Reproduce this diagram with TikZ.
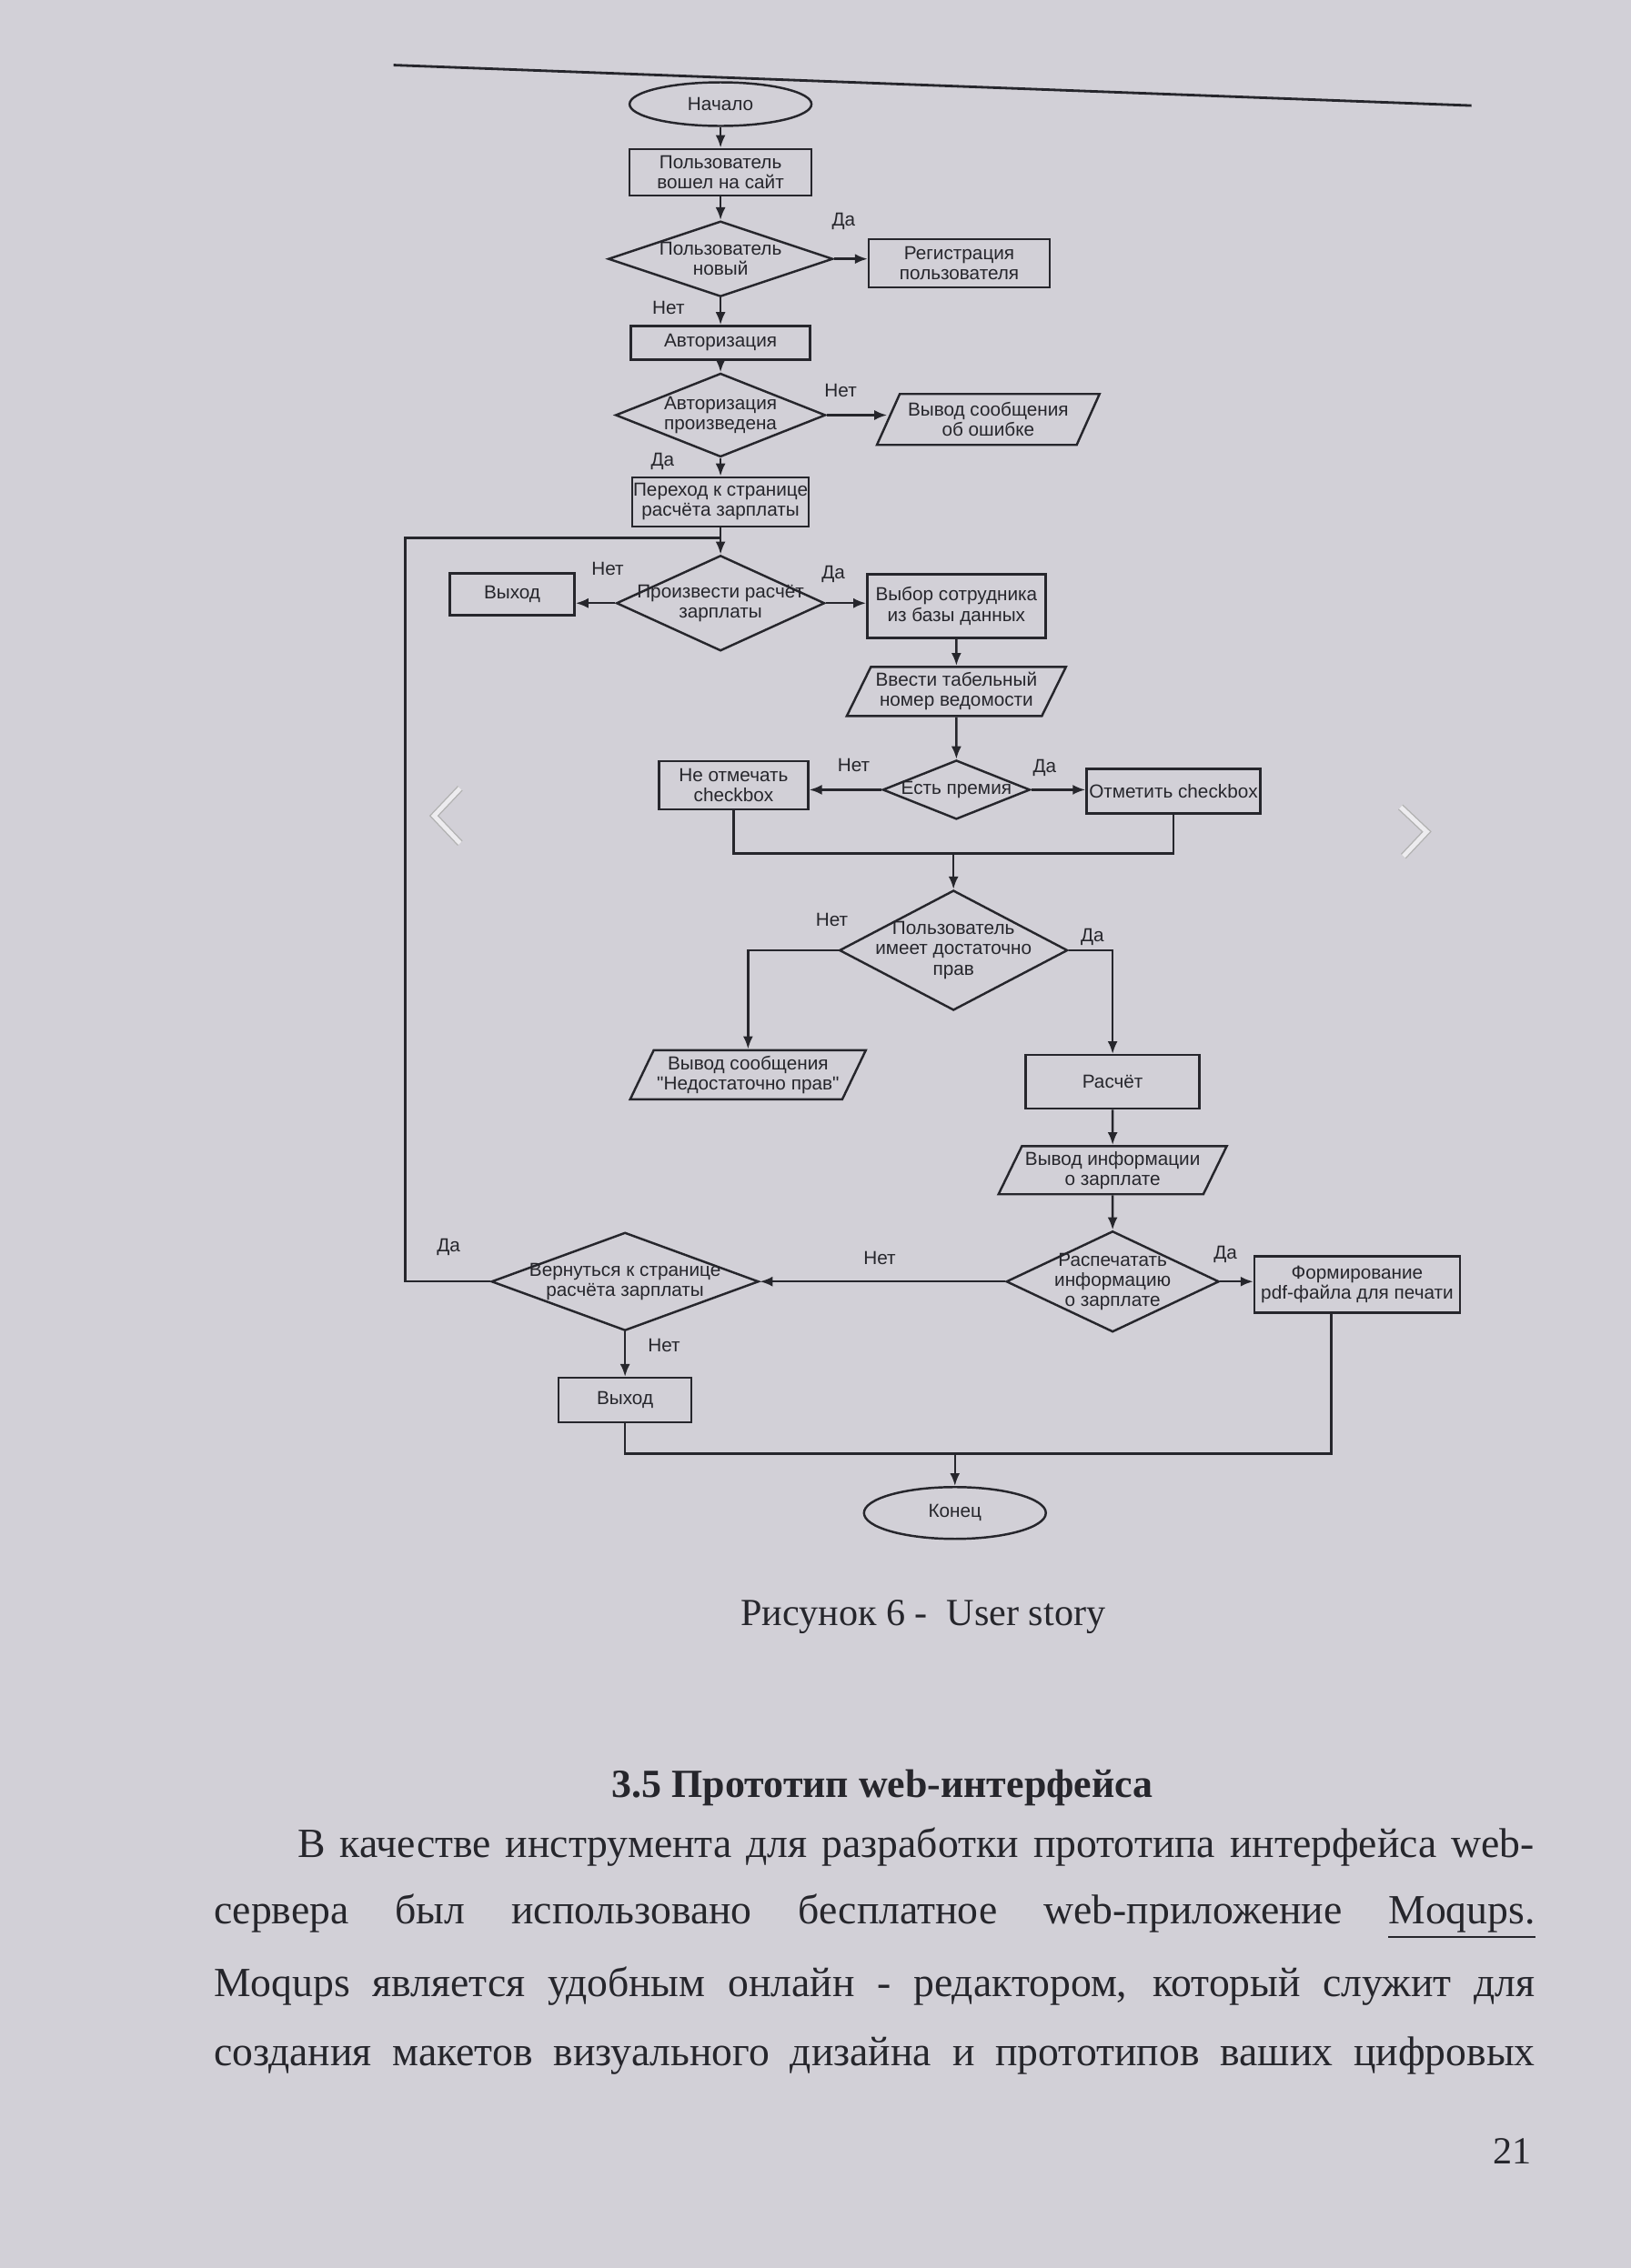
\documentclass[tikz,border=0pt]{standalone}
\usepackage{fontspec}
\setmainfont{Liberation Serif}
\newfontfamily\chartfont{Liberation Sans}
\usetikzlibrary{shapes.geometric,arrows.meta}
\definecolor{paper}{RGB}{210,208,215}
\definecolor{ink}{RGB}{38,38,44}
\newcommand{\chartsize}{\chartfont\fontsize{5.9}{6.3}\selectfont}
\newcommand{\bodysize}{\fontsize{13}{15}\selectfont}

\begin{document}
\begin{tikzpicture}[x=0.1591mm, y=-0.1591mm, color=ink, line width=0.7pt,
    >={Latex[length=1.4mm,width=1.1mm]}]
    \tikzstyle{rec} = [rectangle, draw, inner sep=0pt, align=center, font=\chartsize]
    \tikzstyle{term} = [ellipse, draw, inner sep=0pt, font=\chartsize]
    \tikzstyle{dec} = [diamond, draw, inner sep=0pt]
    \tikzstyle{io} = [trapezium, trapezium left angle=62, trapezium right angle=118,
        trapezium stretches=true, draw, inner sep=1pt, align=center, font=\chartsize]
    \tikzstyle{txt} = [align=center, inner sep=0pt, font=\chartsize]
    \tikzstyle{lbl} = [inner sep=0pt, font=\chartsize]
    \tikzstyle{chev} = [draw=black!30, double=white!60!paper, double distance=1.4pt, line width=0.4pt]

    % page
    \path[fill=paper, use as bounding box] (0,0) rectangle (1127,1568);
    \draw[line width=0.8pt] (272,45) -- (1017,73);
    \draw[chev] (318,545) -- (300,564) -- (318,583);
    \draw[chev] (968,558) -- (986,575) -- (970,592);

    % flowchart
    \node [term, minimum width=2.00cm, minimum height=0.48cm] (start) at (498,72) {Начало};
    \node [rec, minimum width=2.00cm, minimum height=0.51cm] (user) at (498,119) {Пользователь\\вошел на сайт};
    \node [dec, minimum width=2.47cm, minimum height=0.83cm, label={[txt]center:Пользователь\\новый}] (isnew) at (498,179) {};
    \node [rec, minimum width=1.99cm, minimum height=0.53cm] (reg) at (663,182) {Регистрация\\пользователя};
    \node [rec, minimum width=1.97cm, minimum height=0.37cm] (auth) at (498,237) {Авторизация};
    \node [dec, minimum width=2.31cm, minimum height=0.92cm, label={[txt]center:Авторизация\\произведена}] (authok) at (498,287) {};
    \node [io, minimum width=2.45cm, minimum height=0.56cm] (err) at (683,290) {Вывод сообщения\\об ошибке};
    \node [rec, minimum width=1.94cm, minimum height=0.54cm] (page) at (498,347) {Переход к странице\\расчёта зарплаты};
    \node [dec, minimum width=2.29cm, minimum height=1.05cm, label={[txt]center:Произвести расчёт\\зарплаты}] (calc) at (498,417) {};
    \node [rec, minimum width=1.37cm, minimum height=0.46cm] (exit1) at (354,411) {Выход};
    \node [rec, minimum width=1.96cm, minimum height=0.70cm] (emp) at (661,419) {Выбор сотрудника\\из базы данных};
    \node [io, minimum width=2.42cm, minimum height=0.54cm] (tabnum) at (661,478) {Ввести табельный\\номер ведомости};
    \node [dec, minimum width=1.62cm, minimum height=0.65cm, label={[txt]center:Есть премия}] (bonus) at (661,546) {};
    \node [rec, minimum width=1.64cm, minimum height=0.53cm] (nocheck) at (507,543) {Не отмечать\\checkbox};
    \node [rec, minimum width=1.91cm, minimum height=0.49cm] (check) at (811,547) {Отметить checkbox};
    \node [dec, minimum width=2.51cm, minimum height=1.32cm, label={[txt]center:Пользователь\\имеет достаточно\\прав}] (rights) at (659,657) {};
    \node [io, minimum width=2.55cm, minimum height=0.54cm] (warn) at (517,743) {Вывод сообщения\\"Недостаточно прав"};
    \node [rec, minimum width=1.91cm, minimum height=0.59cm] (pay) at (769,748) {Расчёт};
    \node [io, minimum width=2.31cm, minimum height=0.53cm] (info) at (769,809) {Вывод информации\\о зарплате};
    \node [dec, minimum width=2.34cm, minimum height=1.11cm, label={[txt]center:Распечатать\\информацию\\о зарплате}] (print) at (769,886) {};
    \node [rec, minimum width=2.26cm, minimum height=0.62cm] (pdf) at (938,888) {Формирование\\pdf-файла для печати};
    \node [dec, minimum width=2.94cm, minimum height=1.08cm, label={[txt]center:Вернуться к странице\\расчёта зарплаты}] (back) at (432,886) {};
    \node [rec, minimum width=1.46cm, minimum height=0.49cm] (exit2) at (432,968) {Выход};
    \node [term, minimum width=2.00cm, minimum height=0.57cm] (end) at (660,1046) {Конец};

    % branch labels
    \node [lbl] (yes1) at (583,153) {Да};
    \node [lbl] (no1) at (462,213) {Нет};
    \node [lbl] (no2) at (581,270) {Нет};
    \node [lbl] (yes2) at (458,319) {Да};
    \node [lbl] (no3) at (420,393) {Нет};
    \node [lbl] (yes3) at (576,397) {Да};
    \node [lbl] (no4) at (590,529) {Нет};
    \node [lbl] (yes4) at (722,531) {Да};
    \node [lbl] (no5) at (575,636) {Нет};
    \node [lbl] (yes5) at (755,648) {Да};
    \node [lbl] (yes6) at (847,867) {Да};
    \node [lbl] (no6) at (608,870) {Нет};
    \node [lbl] (yes7) at (310,862) {Да};
    \node [lbl] (no7) at (459,930) {Нет};

    % joints
    \coordinate (j1) at (498,372);
    \coordinate (lp) at (280,372);
    \coordinate (m1) at (659,590);
    \coordinate (m2) at (660,1005);
    \coordinate (m3) at (920,1005);

    % connectors
    \draw[->] (start) -- (user);
    \draw[->] (user) -- (isnew);
    \draw[->] (isnew.east) -- (isnew.east -| reg.west);
    \draw[->] (isnew.south) -- (auth.north);
    \draw[->] (auth.south) -- (authok.north);
    \draw[->] (authok.east) -- (authok.east -| err.west);
    \draw[->] (authok.south) -- (page.north);
    \draw[->] (page.south) -- (calc.north);
    \draw[->] (calc.west) -- (calc.west -| exit1.east);
    \draw[->] (calc.east) -- (calc.east -| emp.west);
    \draw[->] (emp.south) -- (tabnum.north);
    \draw[->] (tabnum.south) -- (bonus.north);
    \draw[->] (bonus.west) -- (bonus.west -| nocheck.east);
    \draw[->] (bonus.east) -- (bonus.east -| check.west);
    \draw (nocheck.south) |- (m1) -| (check.south);
    \draw[->] (m1) -- (rights.north);
    \draw[->] (rights.west) -| (warn.north);
    \draw[->] (rights.east) -| (pay.north);
    \draw[->] (pay.south) -- (info.north);
    \draw[->] (info.south) -- (print.north);
    \draw[->] (print.east) -- (print.east -| pdf.west);
    \draw[->] (print.west) -- (back.east);
    \draw (back.west) -| (lp) -- (j1);
    \draw[->] (back.south) -- (exit2.north);
    \draw (exit2.south) |- (m3) -- (m3 |- pdf.south);
    \draw[->] (m2) -- (end.north);

    % page text
    \node (cap) at (638,1118) {\fontsize{12}{14}\selectfont Рисунок 6 -~ User story};
    \node (head) at (610,1236) {\fontsize{12.5}{15}\selectfont\bfseries 3.5 Прототип web-интерфейса};
    \node [anchor=west, inner sep=0pt] (l1) at (205,1277) {\bodysize\makebox[13.60cm][s]{В качестве инструмента для разработки прототипа интерфейса web-}};
    \node [anchor=west, inner sep=0pt] (l2) at (147,1325) {\bodysize\makebox[14.53cm][s]{сервера был использовано бесплатное web-приложение \underline{Moqups.}}};
    \node [anchor=west, inner sep=0pt] (l3) at (147,1373) {\bodysize\makebox[14.53cm][s]{Moqups является удобным онлайн - редактором, который служит для}};
    \node [anchor=west, inner sep=0pt] (l4) at (147,1421) {\bodysize\makebox[14.53cm][s]{создания макетов визуального дизайна и прототипов ваших цифровых}};
    \node (pnum) at (1045,1487) {\fontsize{12}{14}\selectfont 21};
\end{tikzpicture}
\end{document}
